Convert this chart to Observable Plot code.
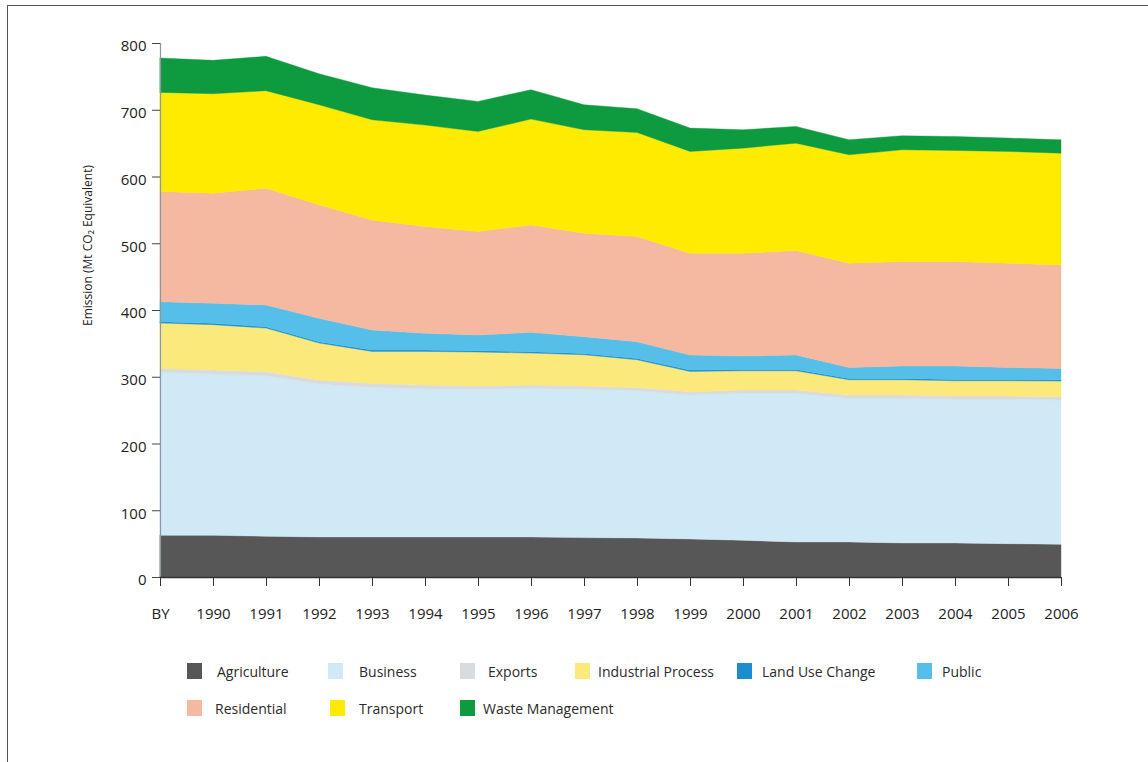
<!DOCTYPE html>
<html>
<head>
<meta charset="utf-8">
<script src="https://cdn.jsdelivr.net/npm/d3@7"></script>
<script src="https://cdn.jsdelivr.net/npm/@observablehq/plot@0.6"></script>
<style>
  html, body { margin: 0; padding: 0; background: #fff; }
  #wrap { position: relative; width: 1148px; height: 762px; overflow: hidden; font-family: "Open Sans", "Liberation Sans", sans-serif; color: #333; }
  #frame { position: absolute; left: 7px; top: 5px; width: 1200px; height: 800px; border-left: 1.5px solid #555; border-top: 1.5px solid #555; box-sizing: border-box; pointer-events: none; }
  #chart { position: absolute; left: 0; top: 0; }
  .lg { position: absolute; display: flex; align-items: center; font-size: 14px; color: #2a2a2a; white-space: nowrap; }
  .lg .sw { width: 15px; height: 16px; margin-right: var(--gap); }
</style>
</head>
<body>
<div id="wrap">
  <div id="chart"></div>
  <div id="legend"></div>
  <div id="frame"></div>
</div>
<script>
// Categories (x axis)
const years = ["BY","1990","1991","1992","1993","1994","1995","1996","1997","1998","1999","2000","2001","2002","2003","2004","2005","2006"];

// Series names, in stacking order (bottom to top) and legend order
const sectors = ["Agriculture","Business","Exports","Industrial Process","Land Use Change","Public","Residential","Transport","Waste Management"];
const sectorColors = ["#575757","#cfe9f7","#d9dcdf","#fbe97c","#1a8fd0","#55bfe9","#f5b8a0","#ffeb00","#0e9a3e"];

// Values (Mt CO2 equivalent)
const agriculture      = [62.5,62.5,61,60,60,60,60,60,59,58.5,57,55,52.5,52.5,51,51,50,49];
const business         = [244,241.5,240.5,229,224,221.5,221,222.5,222,220.5,215.5,220,222.5,215,216.5,215,216,216];
const exportsV         = [6,6,6,6,6,6,5,5,5,5,5,5,5,5,5,5,5,5];
const industrial       = [68,68,65.5,55.5,48,50.5,51,48,47,41.5,30.5,29,29,23,23,23,23,23.5];
const landUseChange    = [2,2,2,2,2,2,2,2,2,2,2,2,2,2,2,2,2,2];
const publicV          = [30,30,32.5,35,30,25,23.5,29,25,25,22.5,20,21.5,16.5,18.5,20,18,17];
const residential      = [165,165,175,170,165,160,155,161,155,157.5,152.5,154,156.5,156,156.5,156.5,156,155];
const transport        = [148.5,149,146,150,150,152,150,158.5,155,156,152.5,157.5,161,162.5,167.5,166.5,167.5,167.5];
const wasteManagement  = [51.5,50,51.5,46.5,48,45,45,44,37.5,35.5,35,27.5,25,22.5,21,21,20,20];

const yTicks = [0,100,200,300,400,500,600,700,800];
const yLabel = "Emission (Mt CO\u2082 Equivalent)";

const seriesValues = [agriculture, business, exportsV, industrial, landUseChange, publicV, residential, transport, wasteManagement];

const rows = [];
sectors.forEach((s, k) => {
  seriesValues[k].forEach((v, i) => rows.push({i, year: years[i], sector: s, value: v}));
});

const W = 1148, H = 640;

const chart = Plot.plot({
  width: W,
  height: H,
  marginLeft: 160,
  marginRight: 87,
  marginTop: 43,
  marginBottom: 63,
  style: {fontFamily: '"Open Sans", "Liberation Sans", sans-serif', color: "#222", background: "transparent"},
  x: {type: "linear", domain: [0, years.length - 1]},
  y: {domain: [0, 800]},
  color: {domain: sectors, range: sectorColors},
  marks: [
    Plot.areaY(rows, {
      x: "i", y: "value", fill: "sector", stroke: "sector", strokeWidth: 0.4,
      order: sectors, curve: "linear"
    }),
    Plot.ruleX([0], {stroke: "#8e979e", strokeWidth: 1.2}),
    Plot.ruleY([0], {stroke: "#333", strokeWidth: 1.5}),
    Plot.axisX({
      ticks: d3.range(years.length),
      tickFormat: i => years[i],
      tickSize: 9, tickPadding: 22, fontSize: 15, label: null, stroke: "#333"
    }),
    Plot.axisY({ticks: yTicks, tickSize: 8, tickFormat: () => "", label: null, stroke: "#444"}),
    Plot.axisY({
      ticks: yTicks, tickFormat: d => String(d),
      tickSize: 0, tickPadding: 14, fontSize: 15, dy: 3, label: null
    }),
    Plot.text([yLabel], {
      frameAnchor: "left", textAnchor: "middle", rotate: -90, dx: -72, dy: -65, fontSize: 12, fill: "#222"
    })
  ]
});
document.getElementById("chart").appendChild(chart);

// Legend (HTML, below the SVG)
const legendPos = [
  [187, 671, 15], [328, 671, 16], [460, 671, 13], [575, 671, 8], [737, 671, 10], [917, 671, 10],
  [187, 708, 13], [330, 708, 14], [460, 708, 8]
];
const legend = document.getElementById("legend");
sectors.forEach((s, k) => {
  const [lx, ly, gap] = legendPos[k];
  const d = document.createElement("div");
  d.className = "lg";
  d.style.left = lx + "px";
  d.style.top = (ly - 11) + "px";
  d.style.height = "22px";
  d.style.setProperty("--gap", gap + "px");
  d.innerHTML = `<span class="sw" style="background:${sectorColors[k]}"></span><span>${s}</span>`;
  legend.appendChild(d);
});
</script>
</body>
</html>
